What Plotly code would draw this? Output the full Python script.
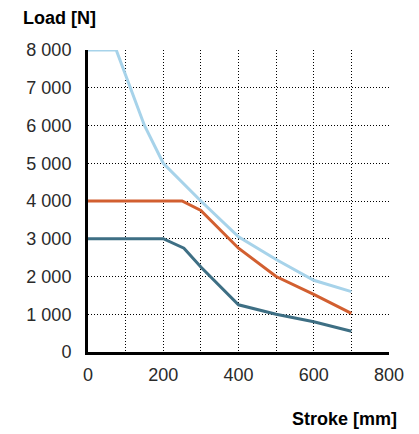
import plotly.graph_objects as go

stroke_blue = [0, 75, 150, 200, 300, 400, 500, 600, 700]
load_blue = [8000, 8000, 6000, 5000, 4000, 3050, 2450, 1900, 1600]

stroke_orange = [0, 250, 300, 400, 500, 600, 700]
load_orange = [4000, 4000, 3750, 2750, 2000, 1525, 1025]

stroke_teal = [0, 200, 255, 300, 400, 500, 600, 700]
load_teal = [3000, 3000, 2750, 2250, 1250, 1000, 800, 550]

x_ticks = [0, 200, 400, 600, 800]
y_ticks = [0, 1000, 2000, 3000, 4000, 5000, 6000, 7000, 8000]
y_ticklabels = ["0", "1 000", "2 000", "3 000", "4 000",
                "5 000", "6 000", "7 000", "8 000"]

fig = go.Figure()
for xs, ys, col in [(stroke_blue, load_blue, "#a7d3ea"),
                    (stroke_orange, load_orange, "#d25f30"),
                    (stroke_teal, load_teal, "#3e6f84")]:
    fig.add_trace(go.Scatter(x=xs, y=ys, mode="lines", cliponaxis=False,
                             line=dict(color=col, width=3), showlegend=False))

font = "Liberation Sans, Arial, Helvetica, sans-serif"
grid = dict(showgrid=True, gridcolor="black", griddash="1px,2px", gridwidth=1)
W, H = 411, 426
L, R, T, B = 80, 30, 42, 82
fig.update_layout(
    width=W, height=H,
    margin=dict(l=L, r=R, t=T, b=B),
    paper_bgcolor="white", plot_bgcolor="white",
    font=dict(family=font, size=18, color="#2a2a2a"),
    xaxis=dict(range=[0, 800], tickvals=x_ticks, automargin=False,
               showline=True, linecolor="black", linewidth=3, zeroline=False,
               ticks="", ticklabelstandoff=4,
               minor=dict(dtick=100, **grid), **grid),
    yaxis=dict(range=[0, 8000], tickvals=y_ticks, ticktext=y_ticklabels, automargin=False,
               showline=True, linecolor="black", linewidth=3, zeroline=False,
               ticks="", ticklabelstandoff=10, **grid),
    annotations=[
        dict(text="<b>Load [N]</b>", x=13, y=10, xref="paper", yref="paper",
             showarrow=False, xanchor="left", yanchor="middle",
             font=dict(family=font, size=18, color="black")),
        dict(text="<b>Stroke [mm]</b>", x=391, y=411, xref="paper", yref="paper",
             showarrow=False, xanchor="right", yanchor="middle",
             font=dict(family=font, size=18, color="black")),
    ],
)
# convert pixel positions (figure pixels) to paper coordinates
pw = W - L - R
ph = H - T - B
for a in fig.layout.annotations:
    a.x = (a.x - L) / pw
    a.y = (H - B - a.y) / ph

fig.write_html("out.html")
